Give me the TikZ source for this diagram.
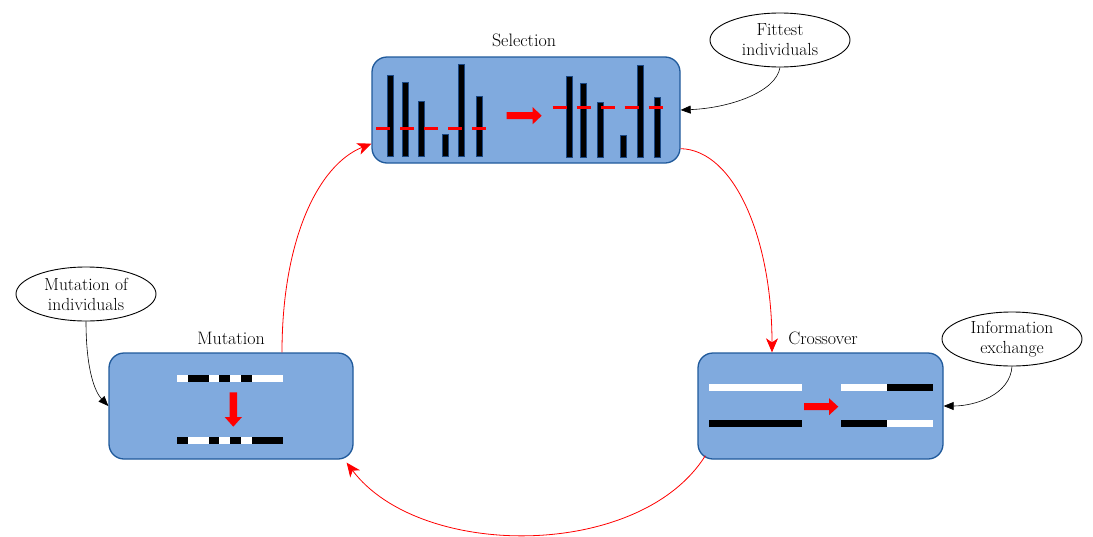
\documentclass[tikz,border=0pt]{standalone}
\usetikzlibrary{arrows.meta,shapes.geometric}
\definecolor{boxfill}{RGB}{128,170,222}
\definecolor{boxline}{RGB}{32,90,155}
\definecolor{barline}{RGB}{25,70,130}
\begin{document}
\begin{tikzpicture}[x=1pt,y=-1pt,
  stagebox/.style={draw=boxline, fill=boxfill, line width=1.3pt, rounded corners=15pt, inner sep=0pt},
  tag/.style={font=\fontsize{18}{20}\selectfont},
  note/.style={draw, ellipse, line width=0.9pt, align=center, inner sep=0pt,
    minimum width=140pt, minimum height=54pt, font=\fontsize{17.5}{20}\selectfont},
  flow/.style={draw=red, line width=0.8pt, -{Stealth[length=14pt,width=12pt,inset=4pt]}},
  hint/.style={draw=black, line width=0.6pt, -{Triangle[length=10pt,width=8pt]}},
  bar/.style={fill=black, draw=barline, line width=0.8pt},
  cutline/.style={draw=red, line width=2.5pt, dash pattern=on 14pt off 10pt},
  blockarrow/.style={fill=red, draw=none}
]
\useasboundingbox (0,0) rectangle (1093,536);

% stage boxes
\node[stagebox, minimum width=308pt, minimum height=106pt] (sel) at (526,110) {};
\node[stagebox, minimum width=244pt, minimum height=106pt] (mut) at (231,406) {};
\node[stagebox, minimum width=245pt, minimum height=106pt] (cross) at (820.5,406) {};

% stage titles
\node[tag] (selT) at (524,40) {Selection};
\node[tag] (mutT) at (231,338) {Mutation};
\node[tag] (crossT) at (823,338) {Crossover};

% remarks
\node[note] (fit) at (780,40) {Fittest\\individuals};
\node[note] (mutnote) at (86,294) {Mutation of\\individuals};
\node[note] (info) at (1012,339) {Information\\exchange};

% selection: population before and after
\foreach \x/\t in {390.7/75, 405/82.3, 421.7/101.7, 445/134, 461.7/64.3, 479.3/96.7}
  \filldraw[bar] (\x-3,\t) rectangle (\x+3,156);
\foreach \x/\t in {569/76, 583.3/83.3, 600/102.3, 623.3/135, 640.7/65.7, 657.3/97.7}
  \filldraw[bar] (\x-3,\t) rectangle (\x+3,157.3);
\draw[cutline] (376,128.3) -- (487,128.3);
\draw[cutline] (552.7,107.3) -- (663.3,107.3);
\fill[blockarrow] (506.7,112.2) -- (532.7,112.2) -- (532.7,107.2) -- (541.7,115.7)
  -- (532.7,124.2) -- (532.7,119.2) -- (506.7,119.2) -- cycle;

% mutation: chromosome before and after
\fill[white] (177.3,375) rectangle (282.7,382.3);
\foreach \a/\b in {187.7/209, 219.3/230, 240.7/251.7}
  \fill[black] (\a,375) rectangle (\b,382.3);
\fill[white] (177.3,437) rectangle (282.7,444);
\foreach \a/\b in {177.3/188.3, 209/219.3, 230/240.7, 251.7/282.7}
  \fill[black] (\a,437) rectangle (\b,444);
\fill[blockarrow] (229.6,392.3) -- (237,392.3) -- (237,417) -- (242,417)
  -- (233.3,426.7) -- (224.6,417) -- (229.6,417) -- cycle;

% crossover: parents and offspring
\fill[white] (709,384.3) rectangle (801.7,391.3);
\fill[black] (709,420) rectangle (801.7,427.3);
\fill[white] (841,384.3) rectangle (886.7,391.3);
\fill[black] (886.7,384.3) rectangle (933.3,391.3);
\fill[black] (841,420) rectangle (886.7,427.3);
\fill[white] (886.7,420) rectangle (933.3,427.3);
\fill[blockarrow] (804,403.2) -- (829,403.2) -- (829,398.2) -- (838.3,406.7)
  -- (829,415.2) -- (829,410.2) -- (804,410.2) -- cycle;

% remark pointers
\draw[hint] (fit.south) .. controls (776,92) and (730,108) .. (sel.east);
\draw[hint] (mutnote.south) .. controls (86,370) and (95,392) .. (mut.west);
\draw[hint] (info.south) .. controls (1010,395) and (975,406) .. (cross.east);

% cycle of the algorithm
\draw[flow] ([yshift=15pt]sel.south east) .. controls (735,150) and (772,240) .. ([xshift=-48.5pt]cross.north);
\draw[flow] ([xshift=8pt,yshift=4pt]cross.south west) .. controls (640,560) and (420,560) .. ([xshift=-7pt,yshift=-3pt]mut.south east);
\draw[flow] ([xshift=51pt]mut.north) .. controls (282,240) and (318,165) .. ([yshift=20pt]sel.south west);
\end{tikzpicture}
\end{document}
